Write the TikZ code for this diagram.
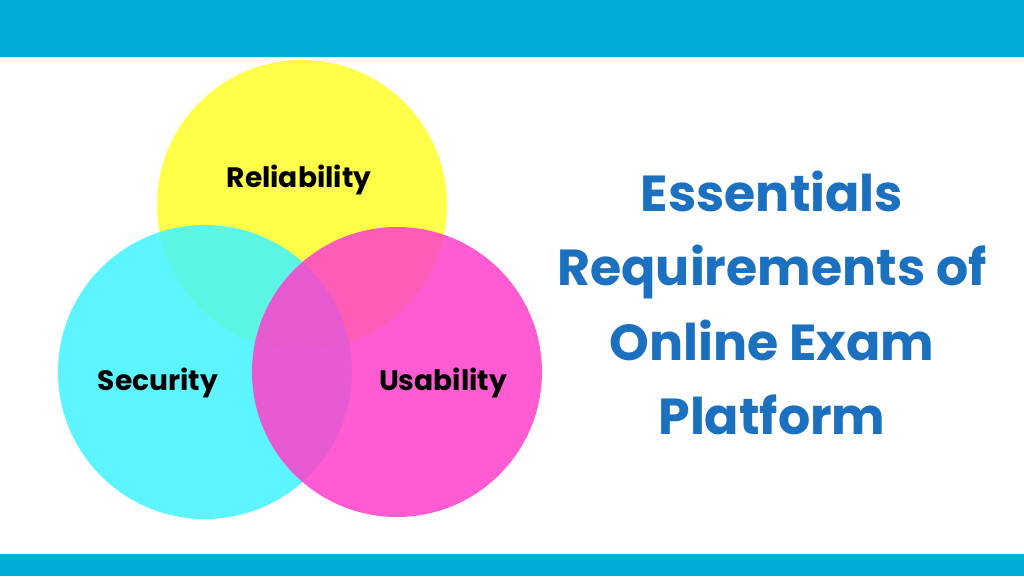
\documentclass[tikz,border=0pt]{standalone}
\usepackage{fontspec}
\setmainfont{Poppins}
\definecolor{barblue}{HTML}{00AED9}
\definecolor{titleblue}{HTML}{1C70C0}
\definecolor{relyellow}{HTML}{FFFF4A}
\definecolor{seccyan}{HTML}{40F4FF}
\definecolor{usemagenta}{HTML}{FF40CC}
\tikzset{
  ring/.style={fill opacity=0.85, draw=none},
  label/.style={font=\fontsize{20}{24}\selectfont\bfseries, text=black},
}
\begin{document}
\begin{tikzpicture}[x=0.25mm, y=-0.25mm]
\useasboundingbox (0,0) rectangle (1024,576);
\fill[white] (0,0) rectangle (1024,576);
\fill[barblue] (0,0) rectangle (1024,57);
\fill[barblue] (0,554) rectangle (1024,576);
% circles
\fill[relyellow] (302,205) circle (145);
\fill[seccyan, ring] (205,372) circle (147);
\fill[usemagenta, ring] (397,372) circle (145);
\node[label] (rel) at (299,180) {Reliability};
\node[label] (sec) at (158,383) {Security};
\node[label] (use) at (443,383) {Usability};
% title
\node[font=\fontsize{36}{53}\selectfont\bfseries, text=titleblue, align=center] (title) at (772,303)
  {Essentials\\Requirements of\\Online Exam\\Platform};
\end{tikzpicture}
\end{document}
